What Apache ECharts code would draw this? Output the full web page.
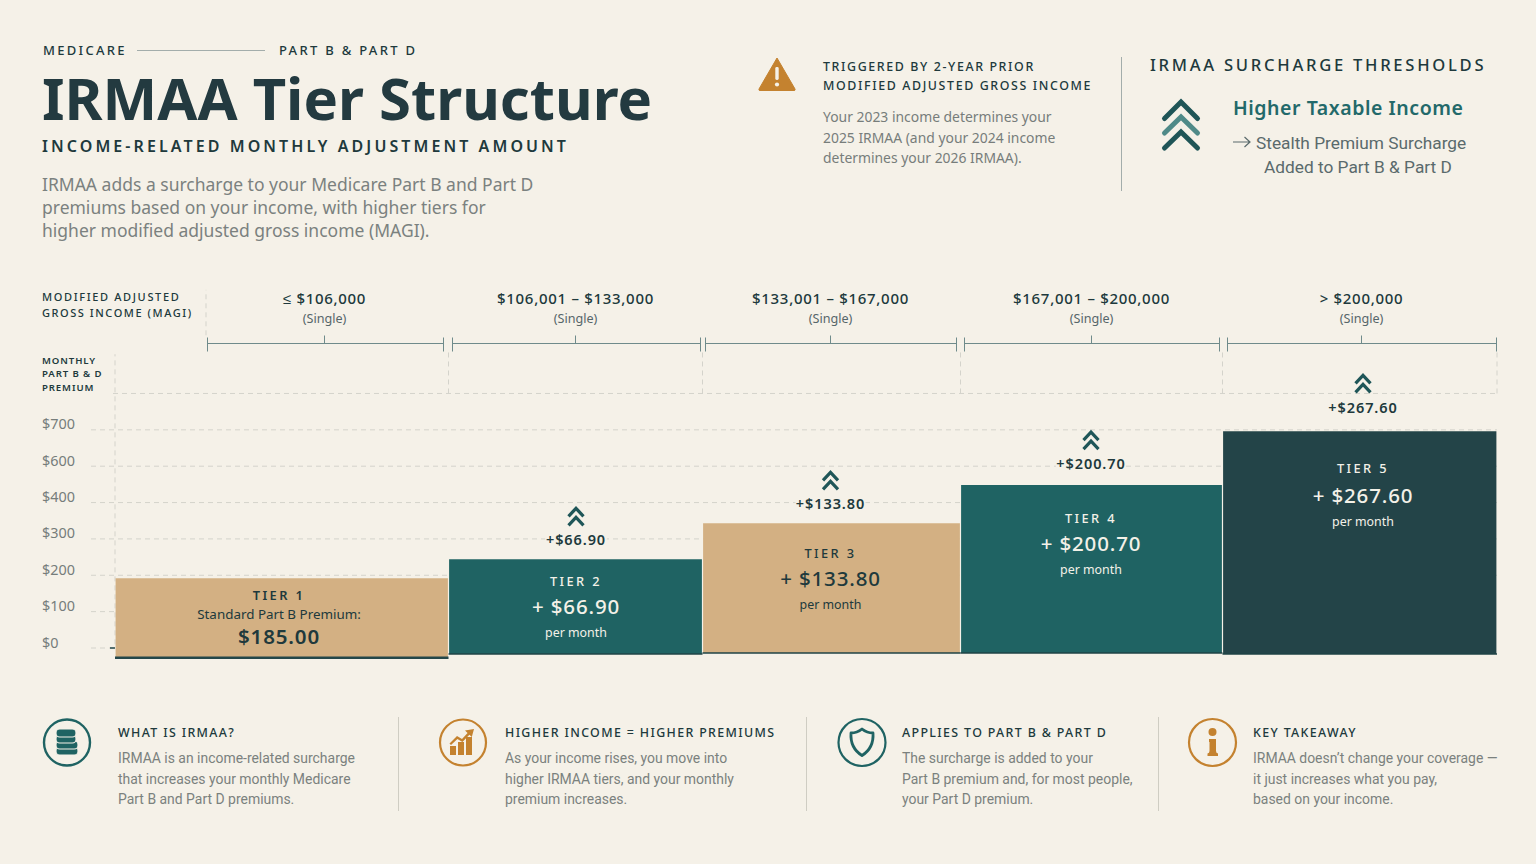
<!DOCTYPE html>
<html>
<head>
<meta charset="utf-8">
<title>IRMAA Tier Structure</title>
<script src="https://cdn.jsdelivr.net/npm/echarts@6/dist/echarts.min.js"></script>
<style>
  html, body { margin: 0; padding: 0; background: #f5f1e8; }
  #page { position: relative; width: 1536px; height: 864px; overflow: hidden; font-family: "Noto Sans", sans-serif; color: #20393c; }
  #chart { position: absolute; left: 0; top: 0; width: 1536px; height: 864px; }
  /* tracking for the chart's svg text, picked by font size */
  #chart text[style*="15px"] { letter-spacing: .7px; }
  #chart text[style*="12.8px"] { letter-spacing: 2.4px; }
  #chart text[style*="20.5px"] { letter-spacing: .85px; }
  #chart text[style*="14.5px"] { letter-spacing: .9px; }
  .t { position: absolute; white-space: pre; line-height: 1; transform: translateY(-50%); }
  .rule { position: absolute; background: #a3adab; }
  .icon { position: absolute; overflow: visible; }
  .eyebrow { font-size: 13px; font-weight: 500; letter-spacing: 2.3px; }
  .axis-name { font-weight: 500; }
  .para { font-size: 17.5px; color: #7b817f; }
  .note-head { font-size: 12.4px; font-weight: 500; letter-spacing: 1.62px; }
  .note { font-size: 13.9px; color: #777d7b; }
  .foot-head { font-size: 12.4px; font-weight: 500; letter-spacing: 1.36px; }
  .foot { font-family: Roboto, sans-serif; font-size: 13.95px; color: #7b817e; margin-top: 1px; }
  .sub { font-family: Roboto, sans-serif; font-size: 17.3px; color: #5a6a6c; margin-top: 1.5px; }
</style>
</head>
<body>
<div id="page">
  <div id="chart"></div>

  <div class="t eyebrow" style="left:43px;top:50px">MEDICARE</div>
  <div class="rule" style="left:137px;top:50px;width:128px;height:1px"></div>
  <div class="t eyebrow" style="left:279px;top:50px">PART B &amp; PART D</div>
  <div class="t" style="left:42px;top:98px;font-size:58px;font-weight:700;color:#233a40">IRMAA Tier Structure</div>
  <div class="t" style="left:42px;top:146px;font-size:16px;font-weight:600;letter-spacing:3.08px">INCOME-RELATED MONTHLY ADJUSTMENT AMOUNT</div>
  <div class="t para" style="left:42px;top:185px">IRMAA adds a surcharge to your Medicare Part B and Part D</div>
  <div class="t para" style="left:42px;top:208px">premiums based on your income, with higher tiers for</div>
  <div class="t para" style="left:42px;top:231px">higher modified adjusted gross income (MAGI).</div>

  <svg class="icon" style="left:758px;top:57px" width="38" height="34" viewBox="0 0 38 34">
    <path d="M19 1 L37 32 Q37.5 33.5 36 33.5 L2 33.5 Q0.5 33.5 1 32 Z" fill="#c4822f" stroke="#c4822f" stroke-linejoin="round"/>
    <rect x="17.3" y="10" width="3.4" height="13" rx="1.4" fill="#f5f1e8"/>
    <circle cx="19" cy="27.5" r="2.1" fill="#f5f1e8"/>
  </svg>
  <div class="t note-head" style="left:823px;top:67px">TRIGGERED BY 2-YEAR PRIOR</div>
  <div class="t note-head" style="left:823px;top:86px">MODIFIED ADJUSTED GROSS INCOME</div>
  <div class="t note" style="left:823px;top:117px">Your 2023 income determines your</div>
  <div class="t note" style="left:823px;top:138px">2025 IRMAA (and your 2024 income</div>
  <div class="t note" style="left:823px;top:158px">determines your 2026 IRMAA).</div>
  <div class="rule" style="left:1120.5px;top:57px;width:1px;height:134px"></div>

  <div class="t" style="left:1150px;top:65px;font-size:16.6px;font-weight:500;letter-spacing:2.72px">IRMAA SURCHARGE THRESHOLDS</div>
  <svg class="icon" style="left:1162px;top:99px" width="38" height="52" viewBox="0 0 38 52" fill="none" stroke-width="5" stroke-linecap="round" stroke-linejoin="miter">
    <path d="M2.5 19.5 L19 3 L35.5 19.5" stroke="#1f5557"/>
    <path d="M2.5 34 L19 18 L35.5 34" stroke="#4f8a88"/>
    <path d="M2.5 49 L19 33 L35.5 49" stroke="#1f5557"/>
  </svg>
  <div class="t" style="left:1233px;top:108px;font-size:19.5px;font-weight:600;letter-spacing:.55px;color:#23696a">Higher Taxable Income</div>
  <svg class="icon" style="left:1233px;top:135px" width="18" height="14" viewBox="0 0 18 14" fill="none" stroke="#5a6a6c" stroke-width="1.2">
    <path d="M0 7 L17 7 M11.5 2 L17 7 L11.5 12"/>
  </svg>
  <div class="t sub" style="left:1256px;top:142px">Stealth Premium Surcharge</div>
  <div class="t sub" style="left:1264px;top:166px">Added to Part B &amp; Part D</div>

  <div class="t axis-name" style="left:42px;top:296px;font-size:11px;letter-spacing:1.65px">MODIFIED ADJUSTED</div>
  <div class="t axis-name" style="left:42px;top:312px;font-size:11px;letter-spacing:1.55px">GROSS INCOME (MAGI)</div>
  <div class="t axis-name" style="left:42px;top:361px;font-size:9.6px;letter-spacing:.9px;font-weight:600">MONTHLY</div>
  <div class="t axis-name" style="left:42px;top:374px;font-size:9.6px;letter-spacing:.9px;font-weight:600">PART B &amp; D</div>
  <div class="t axis-name" style="left:42px;top:387.5px;font-size:9.6px;letter-spacing:.9px;font-weight:600">PREMIUM</div>

  <svg class="icon" style="left:42px;top:718px" width="50" height="50" viewBox="0 0 50 50" fill="none" stroke="#1f6363">
    <circle cx="25" cy="24.5" r="23" stroke-width="2.4"/>
    <g fill="#1f6363" stroke="#f5f1e8" stroke-width="1.2">
      <rect x="14" y="29" width="22" height="8" rx="3.6"/>
      <rect x="14" y="23" width="22" height="8" rx="3.6"/>
      <rect x="14" y="17" width="20" height="8" rx="3.6"/>
      <rect x="14" y="11" width="20" height="8" rx="3.6"/>
    </g>
  </svg>
  <div class="t foot-head" style="left:118px;top:733px">WHAT IS IRMAA?</div>
  <div class="t foot" style="left:118px;top:758px">IRMAA is an income-related surcharge</div>
  <div class="t foot" style="left:118px;top:778.5px">that increases your monthly Medicare</div>
  <div class="t foot" style="left:118px;top:799px">Part B and Part D premiums.</div>
  <div class="rule" style="left:398px;top:717px;width:1px;height:94px;background:#cfcdc3"></div>

  <svg class="icon" style="left:438px;top:718px" width="50" height="50" viewBox="0 0 50 50" fill="none">
    <circle cx="25" cy="24.5" r="23" stroke="#c4822f" stroke-width="2.2"/>
    <g fill="#c4822f">
      <rect x="12" y="28" width="6" height="9"/>
      <rect x="20" y="24" width="6" height="13"/>
      <rect x="28" y="19" width="6" height="18"/>
      <path d="M36 11 L27 12.5 L29.6 15 L24 21 L19 18 L11.5 25.5 L13 27 L19.4 21 L24.4 24 L31.4 16.8 L33.8 19 Z"/>
    </g>
  </svg>
  <div class="t foot-head" style="left:505px;top:733px">HIGHER INCOME = HIGHER PREMIUMS</div>
  <div class="t foot" style="left:505px;top:758px">As your income rises, you move into</div>
  <div class="t foot" style="left:505px;top:778.5px">higher IRMAA tiers, and your monthly</div>
  <div class="t foot" style="left:505px;top:799px">premium increases.</div>
  <div class="rule" style="left:806px;top:717px;width:1px;height:94px;background:#cfcdc3"></div>

  <svg class="icon" style="left:837px;top:718px" width="50" height="50" viewBox="0 0 50 50" fill="none" stroke="#1f6363">
    <circle cx="25" cy="24.5" r="23.5" stroke-width="2.2"/>
    <path d="M25 11 Q30 15 36 15 Q37 30 25 37.5 Q13 30 14 15 Q20 15 25 11 Z" stroke-width="2.8" stroke-linejoin="round"/>
  </svg>
  <div class="t foot-head" style="left:902px;top:733px">APPLIES TO PART B &amp; PART D</div>
  <div class="t foot" style="left:902px;top:758px">The surcharge is added to your</div>
  <div class="t foot" style="left:902px;top:778.5px">Part B premium and, for most people,</div>
  <div class="t foot" style="left:902px;top:799px">your Part D premium.</div>
  <div class="rule" style="left:1157.5px;top:717px;width:1px;height:94px;background:#cfcdc3"></div>

  <svg class="icon" style="left:1188px;top:718px" width="50" height="50" viewBox="0 0 50 50" fill="none">
    <circle cx="24.5" cy="24.5" r="23.5" stroke="#c4822f" stroke-width="2.2"/>
    <g fill="#c4822f">
      <circle cx="24.5" cy="14" r="4"/>
      <path d="M21 21 L28 21 L28 33 Q28 35 30 35.5 L30 38 L19.5 38 L19.5 35.5 Q21.5 35 21.5 33 L21.5 24 L21 24 Z"/>
    </g>
  </svg>
  <div class="t foot-head" style="left:1253px;top:733px">KEY TAKEAWAY</div>
  <div class="t foot" style="left:1253px;top:758px">IRMAA doesn’t change your coverage —</div>
  <div class="t foot" style="left:1253px;top:778.5px">it just increases what you pay,</div>
  <div class="t foot" style="left:1253px;top:799px">based on your income.</div>
</div>

<script>
// chart data
const yTicks = ['$0', '$100', '$200', '$300', '$400', '$600', '$700'];
const incomeRanges = ['≤ $106,000', '$106,001 – $133,000', '$133,001 – $167,000', '$167,001 – $200,000', '> $200,000'];
const filingStatus = ['(Single)', '(Single)', '(Single)', '(Single)', '(Single)'];
const tierNames = ['TIER 1', 'TIER 2', 'TIER 3', 'TIER 4', 'TIER 5'];
const tierAmounts = [185.0, 66.9, 133.8, 200.7, 267.6];
// bar ends, in y tick steps (the ticks are evenly spaced but the labels are not)
const barTops = [1.92, 2.44, 3.43, 4.48, 5.96];
const barBottoms = [-0.27, -0.165, -0.14, -0.14, -0.165];
// band edges on the x axis
const bandEdges = [0, 333.5, 587.5, 845.5, 1107.5, 1382];
const rangeStarts = [92, 337, 590, 849, 1112];
const rangeEnds = [328, 585, 841, 1104, 1381];
const labelCenters = [164, 461, 715.5, 976, 1248];

const colors = {
  tan: '#d3b083', teal: '#1f6363', deep: '#234448', ink: '#20393c',
  grey: '#767d7b', grid: '#d4d3cb', bracket: '#6f8b8b', bg: '#f5f1e8', base: '#24474a'
};
const barColors = [colors.tan, colors.teal, colors.tan, colors.teal, colors.deep];
const inkColors = [colors.ink, '#f3f1e8', colors.ink, '#f3f1e8', '#f3f1e8'];
const font = '"Noto Sans", sans-serif';
// pixel layout of the texts tied to a bar
const textDrop = [17, 21.5, 29.5, 32.5, 36.5];
const rowStretch = [0, 0, 0, 0, 2.5];
const labelLift = [0, 1, 1, 3, 5];
const chevronLift = [0, 1, 1, 3, 6];
const RANGE_Y = 8.39; // bracket row, in y tick steps
const TOP_TICK = 7;

function money(v) {
  return '$' + v.toFixed(2);
}

function txt(text, x, y, size, weight, fill, extra) {
  return {
    type: 'text',
    style: Object.assign({
      text, x, y, fill, fontSize: size, fontWeight: weight, fontFamily: font,
      align: 'center', verticalAlign: 'middle'
    }, extra)
  };
}

function dash(p1, p2, color, width) {
  return {
    type: 'line',
    shape: { x1: p1[0], y1: p1[1], x2: p2[0], y2: p2[1] },
    style: { stroke: color, lineWidth: width || 1, lineDash: [5, 4] }
  };
}

function solid(x1, y1, x2, y2, color, width) {
  return {
    type: 'line',
    shape: { x1, y1, x2, y2 },
    style: { stroke: color, lineWidth: width || 1 }
  };
}

// dashed guide lines behind the bars
function renderGuides(params, api) {
  const right = bandEdges[bandEdges.length - 1];
  const children = [];
  yTicks.concat(['']).forEach((t, i) => {
    const from = i === TOP_TICK ? -2 : -24;
    const to = i < 2 ? 0 : right;
    children.push(dash(api.coord([from, i]), api.coord([to, i]), colors.grid));
  });
  children.push(dash(api.coord([0, 0.1]), api.coord([0, 8.08]), colors.grid));
  children.push(dash(api.coord([91, 8.6]), api.coord([91, 9.85]), colors.grid));
  bandEdges.slice(1).forEach(e => {
    children.push(dash(api.coord([e, TOP_TICK]), api.coord([e, 8.2]), colors.grid));
  });
  const zero = api.coord([0, 0]);
  children.push(solid(zero[0] - 5, zero[1], zero[0], zero[1], colors.base, 1.5));
  return { type: 'group', children };
}

// income range brackets above the bars
function renderRanges(params, api) {
  const i = params.dataIndex;
  const a = api.coord([rangeStarts[i], RANGE_Y]);
  const b = api.coord([rangeEnds[i], RANGE_Y]);
  const y = Math.round(a[1]) + 0.5;
  const x1 = Math.round(a[0]) + 0.5;
  const x2 = Math.round(b[0]) + 0.5;
  const mid = Math.floor((x1 + x2) / 2) - 0.5;
  return {
    type: 'group',
    children: [
      solid(x1, y, x2, y, colors.bracket, 1),
      solid(x1, y - 6, x1, y + 8, colors.bracket, 1),
      solid(x2, y - 6, x2, y + 8, colors.bracket, 1),
      solid(mid, y - 8, mid, y, colors.bracket, 1),
      txt(incomeRanges[i], mid, y - 46, 15, 500, colors.ink),
      txt(filingStatus[i], mid, y - 25.5, 12.6, 400, '#56666a')
    ]
  };
}

function renderBars(params, api) {
  const i = params.dataIndex;
  const tl = api.coord([bandEdges[i], barTops[i]]);
  const br = api.coord([bandEdges[i + 1], barBottoms[i]]);
  const cx = api.coord([labelCenters[i], 0])[0];
  const top = tl[1];
  const drop = textDrop[i];
  const ink = inkColors[i];
  const children = [
    {
      type: 'rect',
      shape: { x: tl[0] + 0.6, y: top, width: br[0] - tl[0] - 1.2, height: br[1] - top },
      style: { fill: barColors[i] }
    },
    solid(tl[0], br[1], br[0], br[1], i === 0 ? colors.base : '#1f4346', i === 0 ? 2.5 : 1.5)
  ];
  if (i === 0) {
    children.push(txt(tierNames[i], cx, top + drop, 12.8, 600, ink));
    children.push(txt('Standard Part B Premium:', cx, top + drop + 18.5, 13.4, 400, ink));
    children.push(txt(money(tierAmounts[i]), cx, top + drop + 41, 20.5, 600, ink));
  } else {
    children.push(txt(tierNames[i], cx, top + drop, 12.8, 500, ink));
    children.push(txt('+ ' + money(tierAmounts[i]), cx, top + drop + 25 + rowStretch[i], 20.5, 500, ink));
    children.push(txt('per month', cx, top + drop + 51.5 + rowStretch[i], 12.4, 400, ink));
  }
  return { type: 'group', children };
}

// chevrons and +$ amounts sitting on top of each surcharge bar
function renderCallouts(params, api) {
  const i = params.dataIndex;
  if (i === 0) return null;
  const p = api.coord([labelCenters[i], barTops[i]]);
  const cx = p[0];
  const y = p[1];
  const chev = dy => ({
    type: 'polyline',
    shape: { points: [[cx - 7.5, y + dy + 8 - chevronLift[i]], [cx, y + dy - chevronLift[i]], [cx + 7.5, y + dy + 8 - chevronLift[i]]] },
    style: { stroke: '#1f5658', fill: null, lineWidth: 3.2 }
  });
  return {
    type: 'group',
    children: [
      chev(-50),
      chev(-41),
      txt('+' + money(tierAmounts[i]), cx, y - 19.5 - labelLift[i], 14.5, 600, colors.ink, {
        backgroundColor: colors.bg, padding: [1, 4]
      })
    ]
  };
}

const indexChart = echarts.init(document.getElementById('chart'), null, { renderer: 'svg' });
const rows = tierNames.map((t, i) => [bandEdges[i], barTops[i]]);

function customSeries(renderItem, data, z) {
  return {
    type: 'custom', renderItem, data, z, silent: true,
    encode: { x: 0, y: 1 }, clip: false
  };
}

indexChart.setOption({
  animation: false,
  backgroundColor: 'transparent',
  tooltip: { show: false },
  grid: { left: 91, right: 39, top: 284.4, bottom: 179.64 },
  xAxis: { type: 'value', min: -24, max: 1382, show: false },
  yAxis: {
    type: 'value',
    min: -1,
    max: 10,
    interval: 1,
    axisLine: { show: false },
    axisTick: { show: false },
    splitLine: { show: false },
    axisLabel: {
      align: 'left',
      verticalAlign: 'bottom',
      lineHeight: 12,
      margin: 49,
      color: colors.grey,
      fontFamily: font,
      fontSize: 14.4,
      formatter: v => yTicks[v] || ''
    }
  },
  series: [
    customSeries(renderGuides, [[0, 0]], 1),
    customSeries(renderRanges, rows, 2),
    customSeries(renderBars, rows, 3),
    customSeries(renderCallouts, rows, 4)
  ]
});
</script>
</body>
</html>
